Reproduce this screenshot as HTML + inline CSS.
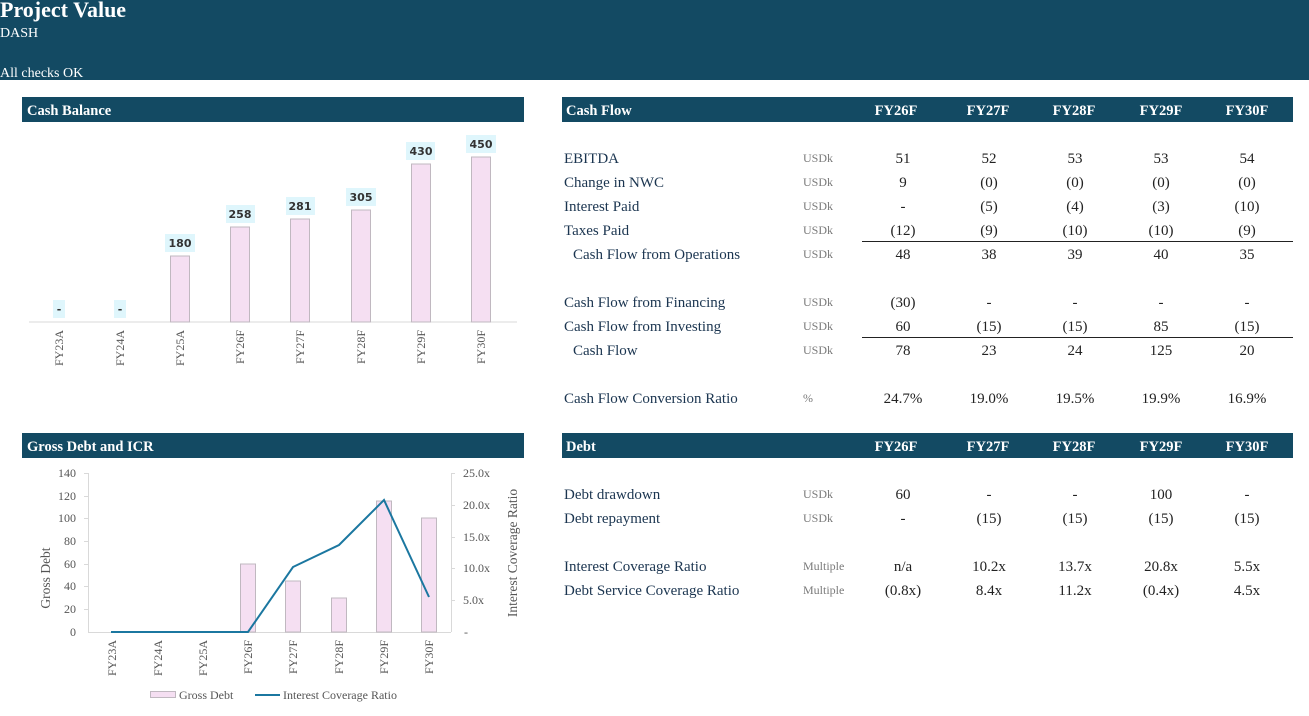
<!DOCTYPE html>
<html><head><meta charset="utf-8"><style>
html,body{margin:0;padding:0;background:#fff;}
svg{display:block;font-family:"Liberation Serif",serif;}
.t{font-size:15px;fill:#1b3550;}
.u{font-size:12px;fill:#7a7a7a;}
.n{font-size:15px;fill:#222;text-anchor:middle;}
.h{font-size:14.5px;fill:#fff;font-weight:bold;}
.hc{font-size:14.5px;fill:#fff;font-weight:bold;text-anchor:middle;}
.ax{font-size:12px;fill:#555;}
.lb{font-family:"DejaVu Sans","Liberation Sans",sans-serif;font-size:11px;font-weight:bold;fill:#333;text-anchor:middle;}
</style></head><body>
<svg width="1309" height="716" viewBox="0 0 1309 716">
<rect x="0" y="0" width="1309" height="80" fill="#134a63"/>
<text x="0" y="17" style="font-size:22px;font-weight:bold;fill:#fff">Project Value</text>
<text x="0" y="37" style="font-size:14px;fill:#fff">DASH</text>
<text x="0" y="77" style="font-size:14px;fill:#fff">All checks OK</text>

<!-- Cash Balance -->
<rect x="22" y="97" width="502" height="25" fill="#134a63"/>
<text x="27" y="115" class="h">Cash Balance</text>
<line x1="29" y1="322" x2="517" y2="322" stroke="#d9d9d9" stroke-width="1"/>
<g fill="#f5dff2" stroke="#c0b8c0" stroke-width="1">
<rect x="170.5" y="256" width="19" height="66"/>
<rect x="230.5" y="227" width="19" height="95"/>
<rect x="290.5" y="219" width="19" height="103"/>
<rect x="351.5" y="210" width="19" height="112"/>
<rect x="411.5" y="164" width="19" height="158"/>
<rect x="471.5" y="157" width="19" height="165"/>
</g>
<g fill="#dff6fc">
<rect x="53" y="300" width="12" height="18"/>
<rect x="114" y="300" width="12" height="18"/>
<rect x="165" y="234" width="30" height="18"/>
<rect x="226" y="205" width="29" height="18"/>
<rect x="286" y="197" width="29" height="18"/>
<rect x="346" y="188" width="30" height="18"/>
<rect x="406" y="142" width="29" height="18"/>
<rect x="466" y="135" width="30" height="18"/>
</g>
<text class="lb" x="59" y="313">-</text>
<text class="lb" x="120" y="313">-</text>
<text class="lb" x="180" y="247">180</text>
<text class="lb" x="240" y="218">258</text>
<text class="lb" x="300" y="210">281</text>
<text class="lb" x="361" y="201">305</text>
<text class="lb" x="421" y="155">430</text>
<text class="lb" x="481" y="148">450</text>
<g class="ax" text-anchor="end">
<text transform="translate(63,330) rotate(-90)">FY23A</text>
<text transform="translate(124,330) rotate(-90)">FY24A</text>
<text transform="translate(184,330) rotate(-90)">FY25A</text>
<text transform="translate(244,330) rotate(-90)">FY26F</text>
<text transform="translate(304,330) rotate(-90)">FY27F</text>
<text transform="translate(365,330) rotate(-90)">FY28F</text>
<text transform="translate(425,330) rotate(-90)">FY29F</text>
<text transform="translate(485,330) rotate(-90)">FY30F</text>
</g>

<!-- Gross Debt and ICR -->
<rect x="22" y="433" width="502" height="25" fill="#134a63"/>
<text x="27" y="451" class="h">Gross Debt and ICR</text>
<line x1="88.5" y1="473" x2="88.5" y2="632" stroke="#d9d9d9"/>
<line x1="451.5" y1="473" x2="451.5" y2="632" stroke="#d9d9d9"/>
<line x1="88" y1="632.5" x2="451" y2="632.5" stroke="#d9d9d9"/>
<g stroke="#d9d9d9">
<line x1="84" y1="473.5" x2="88" y2="473.5"/><line x1="84" y1="496.5" x2="88" y2="496.5"/><line x1="84" y1="518.5" x2="88" y2="518.5"/><line x1="84" y1="541.5" x2="88" y2="541.5"/><line x1="84" y1="564.5" x2="88" y2="564.5"/><line x1="84" y1="586.5" x2="88" y2="586.5"/><line x1="84" y1="609.5" x2="88" y2="609.5"/>
<line x1="451" y1="473.5" x2="455" y2="473.5"/><line x1="451" y1="505.5" x2="455" y2="505.5"/><line x1="451" y1="537.5" x2="455" y2="537.5"/><line x1="451" y1="568.5" x2="455" y2="568.5"/><line x1="451" y1="600.5" x2="455" y2="600.5"/>
</g>
<g class="ax" text-anchor="end">
<text x="76" y="477">140</text><text x="76" y="500">120</text><text x="76" y="522">100</text><text x="76" y="545">80</text><text x="76" y="568">60</text><text x="76" y="590">40</text><text x="76" y="613">20</text><text x="76" y="636">0</text>
</g>
<g class="ax">
<text x="463" y="477">25.0x</text><text x="463" y="509">20.0x</text><text x="463" y="541">15.0x</text><text x="463" y="572">10.0x</text><text x="463" y="604">5.0x</text><text x="464" y="636">-</text>
</g>
<text class="ax" text-anchor="middle" transform="translate(50,578) rotate(-90)" style="font-size:13.5px">Gross Debt</text>
<text class="ax" text-anchor="middle" transform="translate(517,553) rotate(-90)" style="font-size:13.5px">Interest Coverage Ratio</text>
<g fill="#f5dff2" stroke="#c0b8c0" stroke-width="1">
<rect x="240.5" y="564" width="15" height="68"/>
<rect x="285.5" y="581" width="15" height="51"/>
<rect x="331.5" y="598" width="15" height="34"/>
<rect x="376.5" y="501" width="15" height="131"/>
<rect x="421.5" y="518" width="15" height="114"/>
</g>
<polyline fill="none" stroke="#1b77a0" stroke-width="2" points="111,632 157,632 203,632 248,632 293,567 339,545 384,500 429,597"/>
<g class="ax" text-anchor="end">
<text transform="translate(116,640) rotate(-90)">FY23A</text>
<text transform="translate(162,640) rotate(-90)">FY24A</text>
<text transform="translate(207,640) rotate(-90)">FY25A</text>
<text transform="translate(252,640) rotate(-90)">FY26F</text>
<text transform="translate(297,640) rotate(-90)">FY27F</text>
<text transform="translate(343,640) rotate(-90)">FY28F</text>
<text transform="translate(388,640) rotate(-90)">FY29F</text>
<text transform="translate(433,640) rotate(-90)">FY30F</text>
</g>
<rect x="150.5" y="691.5" width="25" height="6" fill="#f5dff2" stroke="#c0b8c0"/>
<text x="179" y="699" class="ax" style="font-size:12px">Gross Debt</text>
<line x1="255" y1="695" x2="280" y2="695" stroke="#1b77a0" stroke-width="2"/>
<text x="283" y="699" class="ax" style="font-size:12px">Interest Coverage Ratio</text>

<!-- Cash Flow table -->
<rect x="562" y="97" width="731" height="25" fill="#134a63"/>
<text x="566" y="115" class="h">Cash Flow</text>
<g class="hc"><text x="896" y="115">FY26F</text><text x="988" y="115">FY27F</text><text x="1074" y="115">FY28F</text><text x="1161" y="115">FY29F</text><text x="1247" y="115">FY30F</text></g>
<g class="t">
<text x="564" y="163">EBITDA</text>
<text x="564" y="187">Change in NWC</text>
<text x="564" y="211">Interest Paid</text>
<text x="564" y="235">Taxes Paid</text>
<text x="573" y="259">Cash Flow from Operations</text>
<text x="564" y="307">Cash Flow from Financing</text>
<text x="564" y="331">Cash Flow from Investing</text>
<text x="573" y="355">Cash Flow</text>
<text x="564" y="403">Cash Flow Conversion Ratio</text>
</g>
<g class="u">
<text x="803" y="162">USDk</text><text x="803" y="186">USDk</text><text x="803" y="210">USDk</text><text x="803" y="234">USDk</text><text x="803" y="258">USDk</text>
<text x="803" y="306">USDk</text><text x="803" y="330">USDk</text><text x="803" y="354">USDk</text><text x="803" y="402">%</text>
</g>
<g class="n">
<text x="903" y="163">51</text><text x="989" y="163">52</text><text x="1075" y="163">53</text><text x="1161" y="163">53</text><text x="1247" y="163">54</text>
<text x="903" y="187">9</text><text x="989" y="187">(0)</text><text x="1075" y="187">(0)</text><text x="1161" y="187">(0)</text><text x="1247" y="187">(0)</text>
<text x="903" y="211">-</text><text x="989" y="211">(5)</text><text x="1075" y="211">(4)</text><text x="1161" y="211">(3)</text><text x="1247" y="211">(10)</text>
<text x="903" y="235">(12)</text><text x="989" y="235">(9)</text><text x="1075" y="235">(10)</text><text x="1161" y="235">(10)</text><text x="1247" y="235">(9)</text>
<text x="903" y="259">48</text><text x="989" y="259">38</text><text x="1075" y="259">39</text><text x="1161" y="259">40</text><text x="1247" y="259">35</text>
<text x="903" y="307">(30)</text><text x="989" y="307">-</text><text x="1075" y="307">-</text><text x="1161" y="307">-</text><text x="1247" y="307">-</text>
<text x="903" y="331">60</text><text x="989" y="331">(15)</text><text x="1075" y="331">(15)</text><text x="1161" y="331">85</text><text x="1247" y="331">(15)</text>
<text x="903" y="355">78</text><text x="989" y="355">23</text><text x="1075" y="355">24</text><text x="1161" y="355">125</text><text x="1247" y="355">20</text>
<text x="903" y="403">24.7%</text><text x="989" y="403">19.0%</text><text x="1075" y="403">19.5%</text><text x="1161" y="403">19.9%</text><text x="1247" y="403">16.9%</text>
</g>
<line x1="862" y1="241.5" x2="1293" y2="241.5" stroke="#222"/>
<line x1="862" y1="337.5" x2="1293" y2="337.5" stroke="#222"/>

<!-- Debt table -->
<rect x="562" y="433" width="731" height="25" fill="#134a63"/>
<text x="566" y="451" class="h">Debt</text>
<g class="hc"><text x="896" y="451">FY26F</text><text x="988" y="451">FY27F</text><text x="1074" y="451">FY28F</text><text x="1161" y="451">FY29F</text><text x="1247" y="451">FY30F</text></g>
<g class="t">
<text x="564" y="499">Debt drawdown</text>
<text x="564" y="523">Debt repayment</text>
<text x="564" y="571">Interest Coverage Ratio</text>
<text x="564" y="595">Debt Service Coverage Ratio</text>
</g>
<g class="u">
<text x="803" y="498">USDk</text><text x="803" y="522">USDk</text><text x="803" y="570">Multiple</text><text x="803" y="594">Multiple</text>
</g>
<g class="n">
<text x="903" y="499">60</text><text x="989" y="499">-</text><text x="1075" y="499">-</text><text x="1161" y="499">100</text><text x="1247" y="499">-</text>
<text x="903" y="523">-</text><text x="989" y="523">(15)</text><text x="1075" y="523">(15)</text><text x="1161" y="523">(15)</text><text x="1247" y="523">(15)</text>
<text x="903" y="571">n/a</text><text x="989" y="571">10.2x</text><text x="1075" y="571">13.7x</text><text x="1161" y="571">20.8x</text><text x="1247" y="571">5.5x</text>
<text x="903" y="595">(0.8x)</text><text x="989" y="595">8.4x</text><text x="1075" y="595">11.2x</text><text x="1161" y="595">(0.4x)</text><text x="1247" y="595">4.5x</text>
</g>
</svg>
</body></html>
